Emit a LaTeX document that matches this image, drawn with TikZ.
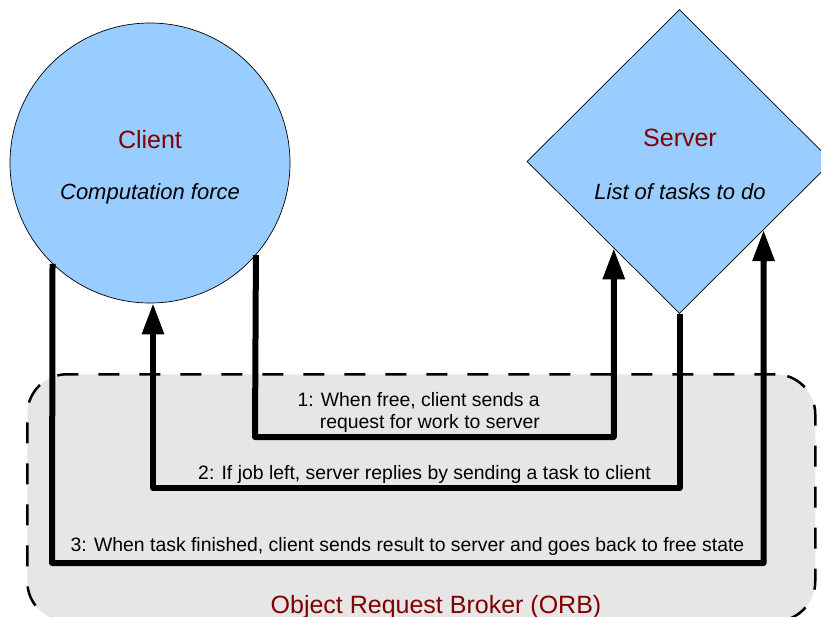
\documentclass[tikz,border=0pt]{standalone}
\usepackage{fontspec}
\setmainfont{Liberation Sans}
\usetikzlibrary{arrows.meta,shapes.geometric,calc}
\definecolor{shapeblue}{HTML}{99CCFF}
\definecolor{namered}{HTML}{800000}
\definecolor{orbgray}{HTML}{E6E6E6}
\begin{document}
\begin{tikzpicture}[x=1pt,y=-1pt,
  shapefill/.style={fill=shapeblue,draw=black,line width=0.7pt,inner sep=0pt},
  wire/.style={line width=6pt,line join=round,-{Triangle[length=31pt,width=21pt]}},
  orbbox/.style={draw=black,fill=orbgray,dash pattern=on 21pt off 20pt,line width=2.5pt,rounded corners=40pt,inner sep=0pt},
  titletext/.style={font=\fontsize{25}{30}\selectfont,text=namered,inner sep=0pt},
  roletext/.style={font=\fontsize{22}{26}\selectfont\itshape,inner sep=0pt},
  steptext/.style={font=\fontsize{19.4}{22.5}\selectfont,inner sep=0pt}]
\useasboundingbox (0,0) rectangle (821,616);
\clip (0,0) rectangle (821,616);
% ORB area
\node[orbbox,minimum width=788pt,minimum height=247pt,anchor=north west] (orb) at (26,373) {};
% shapes
\node[circle,shapefill,minimum size=280pt] (client) at (150,163) {};
\node[diamond,shapefill,aspect=1,minimum width=305pt,minimum height=304pt] (server) at (679.5,161.5) {};
% texts in shapes
\node[titletext,anchor=base] (clientname) at (150,148) {Client};
\node[roletext,anchor=base] (clientrole) at (150,199) {Computation force};
\node[titletext,anchor=base] (servername) at (680,146) {Server};
\node[roletext,anchor=base] (serverrole) at (680,199) {List of tasks to do};
% connector end points
\coordinate (a1t) at ($(server.west)!0.57!(server.south)$);
\coordinate (a3t) at ($(server.south)!0.55!(server.east)$);
\coordinate (a2t) at ([xshift=3pt]client.south);
\coordinate (a1b) at (255,437);
\coordinate (a3b) at (52,563);
% connectors
\draw[wire] (client.-41.4) -- (a1b) -| (a1t);
\draw[wire] (server.south) -- ++(0,174) -| (a2t);
\draw[wire] (client.-134.4) -- (a3b) -| (a3t);
% labels
\node[steptext,align=right,anchor=north east] (lab1) at (540,392) {1: When free, client sends a\\request for work to server};
\node[steptext,anchor=base] (lab2) at (424.5,479) {2: If job left, server replies by sending a task to client};
\node[steptext,anchor=base] (lab3) at (407.5,551) {3: When task finished, client sends result to server and goes back to free state};
\node[titletext,anchor=base] (orbname) at (436,613) {Object Request Broker (ORB)};
\end{tikzpicture}
\end{document}
